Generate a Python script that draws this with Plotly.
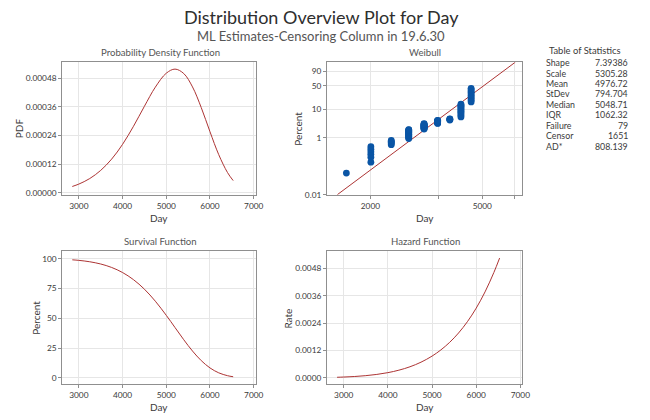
import numpy as np
import plotly.graph_objects as go

W, H = 650, 420

# ---------------- data ----------------
curve_day = [2850, 3000, 3250, 3500, 3750, 4000, 4250, 4500, 4750, 5000,
             5200, 5400, 5600, 5800, 6000, 6200, 6400, 6530]
pdf_vals = [2.60e-5, 3.60e-5, 5.92e-5, 9.33e-5, 1.405e-4, 2.024e-4, 2.781e-4,
            3.618e-4, 4.420e-4, 5.003e-4, 5.175e-4, 4.989e-4, 4.429e-4,
            3.562e-4, 2.551e-4, 1.592e-4, 8.44e-5, 5.06e-5]
surv_pct = [98.99, 98.53, 97.36, 95.48, 92.59, 88.33, 82.34, 74.36, 64.28,
            52.43, 42.21, 31.98, 22.50, 14.46, 8.34, 4.22, 1.83, 0.96]
hazard_vals = [2.63e-5, 3.65e-5, 6.08e-5, 9.77e-5, 1.517e-4, 2.292e-4,
               3.378e-4, 4.866e-4, 6.876e-4, 9.543e-4, 1.226e-3, 1.560e-3,
               1.968e-3, 2.463e-3, 3.059e-3, 3.772e-3, 4.622e-3, 5.256e-3]

fail_groups_day = [1643, 2008, 2373, 2738, 3104, 3469, 3834, 4199, 4564]
fail_groups_pct = [
    [0.058],
    [0.14, 0.21, 0.265, 0.325, 0.40, 0.49],
    [0.58, 0.64, 0.70, 0.76, 0.82],
    [0.95, 1.01, 1.08, 1.14, 1.21, 1.28, 1.34, 1.41, 1.48, 1.55, 1.62, 1.69,
     1.76, 1.83, 1.90, 1.96],
    [2.04, 2.11, 2.19, 2.26, 2.34, 2.42, 2.50, 2.58, 2.66, 2.74, 2.82, 2.90,
     2.98, 3.06, 3.14],
    [3.23, 3.32, 3.41, 3.50, 3.59, 3.68, 3.77, 3.86, 3.95, 4.04, 4.12],
    [4.22, 4.36, 4.50, 4.64],
    [5.4, 6.1, 6.9, 7.7, 8.5, 9.4, 10.3, 11.3, 12.3, 13.4, 14.5],
    [17.1, 19.5, 22.0, 24.6, 27.3, 30.1, 33.0, 36.2, 39.7, 43.4],
]
fit_day = [1526, 6550]
fit_pct = [0.01, 99.12]

weib_tick_pct = [0.01, 1, 10, 50, 90]
weib_tick_text = ["0.01", "1", "10", "50", "90"]
weib_xgrid = [2000, 3500, 5000, 6500]
weib_xgrid_text = ["2000", "", "5000", ""]

stat_labels = ["Shape", "Scale", "Mean", "StDev", "Median", "IQR",
               "Failure", "Censor", "AD*"]
stat_values = ["7.39386", "5305.28", "4976.72", "794.704", "5048.71",
               "1062.32", "79", "1651", "808.139"]

title = "Distribution Overview Plot for Day"
subtitle = "ML Estimates-Censoring Column in 19.6.30"
panel_titles = ["Probability Density Function", "Weibull",
                "Survival Function", "Hazard Function"]

# ---------------- styling ----------------
FONT = "Lato"
RED = "#ad3434"
BLUE = "#0a55a5"
GRID = "#e6e6e6"
FRAME = "#8f8f8f"
TXT = "#3a3a3a"


def weib(p):
    p = np.asarray(p, dtype=float) / 100.0
    return np.log(-np.log(1.0 - p))


def px(x):
    return x / W


def py(y):
    return 1 - y / H


fig = go.Figure()

fig.add_trace(go.Scatter(x=curve_day, y=pdf_vals, mode="lines",
                         line=dict(color=RED, width=1, shape="spline"),
                         xaxis="x", yaxis="y", showlegend=False))
pts_x, pts_y = [], []
for d, plist in zip(fail_groups_day, fail_groups_pct):
    for p in plist:
        pts_x.append(d)
        pts_y.append(p)
fig.add_trace(go.Scatter(x=fit_day, y=weib(fit_pct), mode="lines",
                         line=dict(color=RED, width=1),
                         xaxis="x2", yaxis="y2", showlegend=False))
fig.add_trace(go.Scatter(x=pts_x, y=weib(pts_y), mode="markers",
                         marker=dict(color=BLUE, size=6.8),
                         xaxis="x2", yaxis="y2", showlegend=False))
fig.add_trace(go.Scatter(x=curve_day, y=surv_pct, mode="lines",
                         line=dict(color=RED, width=1, shape="spline"),
                         xaxis="x3", yaxis="y3", showlegend=False))
fig.add_trace(go.Scatter(x=curve_day, y=hazard_vals, mode="lines",
                         line=dict(color=RED, width=1, shape="spline"),
                         xaxis="x4", yaxis="y4", showlegend=False))

common = dict(showgrid=True, gridcolor=GRID, gridwidth=1, zeroline=False,
              showline=True, linecolor=FRAME, linewidth=1, mirror=True,
              ticks="outside", ticklen=3, tickcolor=FRAME,
              tickfont=dict(family=FONT, size=8.3, color=TXT))

top_dom = [py(197), py(63)]
bot_dom = [py(389), py(254)]
left_dom = [px(63), px(259)]
right_dom = [px(331), px(529)]
day_range = [2620, 7048]

fig.update_layout(
    width=W, height=H,
    margin=dict(l=0, r=0, t=0, b=0),
    paper_bgcolor="white", plot_bgcolor="white",
    font=dict(family=FONT, color=TXT),
    hovermode=False,
    xaxis=dict(domain=left_dom, anchor="y", range=day_range,
               tickvals=[3000, 4000, 5000, 6000, 7000], tickformat="d", **common),
    yaxis=dict(domain=top_dom, anchor="x", range=[-0.00000828, 0.0005462],
               tickvals=[0, 0.00012, 0.00024, 0.00036, 0.00048],
               tickformat=".5f", **common),
    xaxis2=dict(domain=right_dom, anchor="y2", type="log",
                range=[3.1465, 3.842], tickvals=weib_xgrid,
                ticktext=weib_xgrid_text, **common),
    yaxis2=dict(domain=top_dom, anchor="x2", range=[-9.2103, 1.554],
                tickvals=weib(weib_tick_pct).tolist(),
                ticktext=weib_tick_text, **common),
    xaxis3=dict(domain=left_dom, anchor="y3", range=day_range,
                tickvals=[3000, 4000, 5000, 6000, 7000], tickformat="d", **common),
    yaxis3=dict(domain=bot_dom, anchor="x3", range=[-5.45, 106.4],
                tickvals=[0, 25, 50, 75, 100], **common),
    xaxis4=dict(domain=right_dom, anchor="y4", range=day_range,
                tickvals=[3000, 4000, 5000, 6000, 7000], tickformat="d", **common),
    yaxis4=dict(domain=bot_dom, anchor="x4", range=[-0.000285, 0.005566],
                tickvals=[0, 0.0012, 0.0024, 0.0036, 0.0048],
                tickformat=".4f", **common),
)

ann = []


def text(x, y, s, size, color=TXT, xanchor="center", angle=0):
    ann.append(dict(x=px(x), y=py(y), xref="paper", yref="paper", text=s,
                    showarrow=False, xanchor=xanchor, yanchor="middle",
                    textangle=angle, borderpad=0,
                    font=dict(family=FONT, size=size, color=color)))


text(325, 17, title, 18, "#2e2e2e")
text(325, 36.5, subtitle, 13, "#555555")
text(162, 53, panel_titles[0], 9.6, "#555555")
text(430, 53, panel_titles[1], 9.6, "#555555")
text(162, 244, panel_titles[2], 9.6, "#555555")
text(431, 244, panel_titles[3], 9.6, "#555555")
# axis titles
text(161, 221, "Day", 10)
text(430, 221, "Day", 10)
text(161, 412, "Day", 10)
text(430, 412, "Day", 10)
text(20, 130, "PDF", 10, angle=-90)
text(302, 130, "Percent", 10, angle=-90)
text(37, 322, "Percent", 10, angle=-90)
text(292, 322, "Rate", 10, angle=-90)
# statistics table
text(592, 51, "Table of Statistics", 9.4)
for i, (lab, val) in enumerate(zip(stat_labels, stat_values)):
    yy = 63.3 + i * 10.6
    text(551.5, yy, lab, 8.8, xanchor="left")
    text(637, yy, val, 8.8, xanchor="right")

fig.update_layout(annotations=ann)
fig.write_html("out.html",
               config={"displayModeBar": False},
               post_script="document.body.style.margin='0px';"
                           "document.body.style.overflow='hidden';")
